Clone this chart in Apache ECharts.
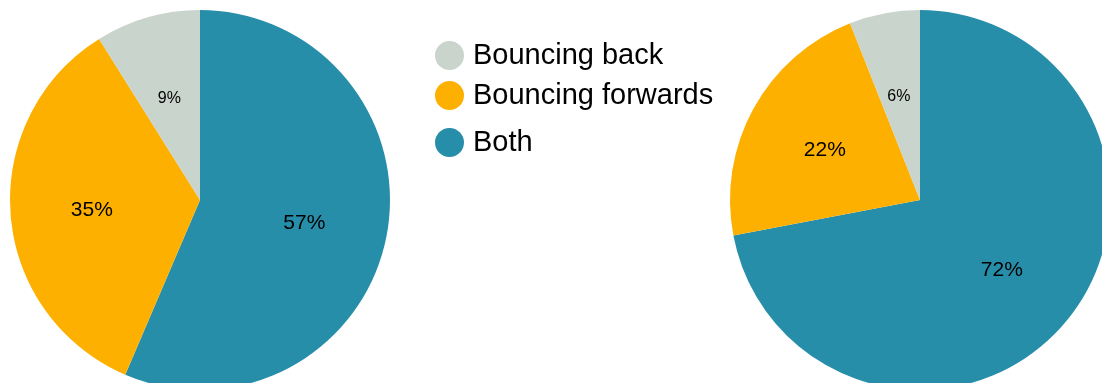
<!DOCTYPE html>
<html>
<head>
<meta charset="utf-8">
<style>
  html, body { margin: 0; padding: 0; background: #ffffff; }
  #chart { width: 1102px; height: 383px; }
</style>
<script src="https://cdn.jsdelivr.net/npm/echarts@6/dist/echarts.min.js"></script>
</head>
<body>
<div id="chart"></div>
<script>
// Categories in clockwise order from 12 o'clock
const categories = ['Both', 'Bouncing forwards', 'Bouncing back'];
const colors = ['#278eaa', '#fdb000', '#c9d4cd'];

// Shares (%) for each pie
const leftValues = [57, 35, 9];
const rightValues = [72, 22, 6];

// Legend rows, top to bottom
const legendOrder = ['Bouncing back', 'Bouncing forwards', 'Both'];

const FONT = '"Liberation Sans", Arial, Helvetica, sans-serif';

function buildData(values) {
  return categories.map((name, i) => ({
    name: name,
    value: values[i],
    itemStyle: { color: colors[i] },
    label: { fontSize: values[i] < 10 ? 16 : 21 }
  }));
}

function pieSeries(values, center) {
  return [
    {
      type: 'pie',
      center: center,
      radius: [0, 190],
      startAngle: 90,
      clockwise: true,
      label: { show: false },
      labelLine: { show: false },
      emphasis: { disabled: true },
      silent: true,
      data: buildData(values)
    },
    {
      // label layer placed a little further out than the default inside position
      type: 'pie',
      center: center,
      radius: [19, 190],
      startAngle: 90,
      clockwise: true,
      silent: true,
      emphasis: { disabled: true },
      itemStyle: { color: 'rgba(0,0,0,0)' },
      label: {
        show: true,
        position: 'inside',
        formatter: '{c}%',
        color: '#000',
        fontFamily: FONT,
        offset: [-1, 2]
      },
      labelLine: { show: false },
      data: buildData(values).map(d => ({ ...d, itemStyle: { color: 'rgba(0,0,0,0)' } }))
    }
  ];
}

const legendTops = [41, 81, 128];
const legends = legendOrder.map((name, i) => ({
  data: [name],
  left: 435,
  top: legendTops[i],
  padding: 0,
  icon: 'circle',
  itemWidth: 29,
  itemHeight: 29,
  itemGap: 0,
  selectedMode: false,
  textStyle: {
    fontSize: 29,
    lineHeight: 29,
    color: '#000',
    fontFamily: FONT,
    padding: [0, 0, 0, 4]
  }
}));

const chart = echarts.init(document.getElementById('chart'), null, { renderer: 'canvas' });
chart.setOption({
  animation: false,
  backgroundColor: '#ffffff',
  legend: legends,
  series: [
    ...pieSeries(leftValues, [200, 200]),
    ...pieSeries(rightValues, [920, 200])
  ]
});
</script>
</body>
</html>
